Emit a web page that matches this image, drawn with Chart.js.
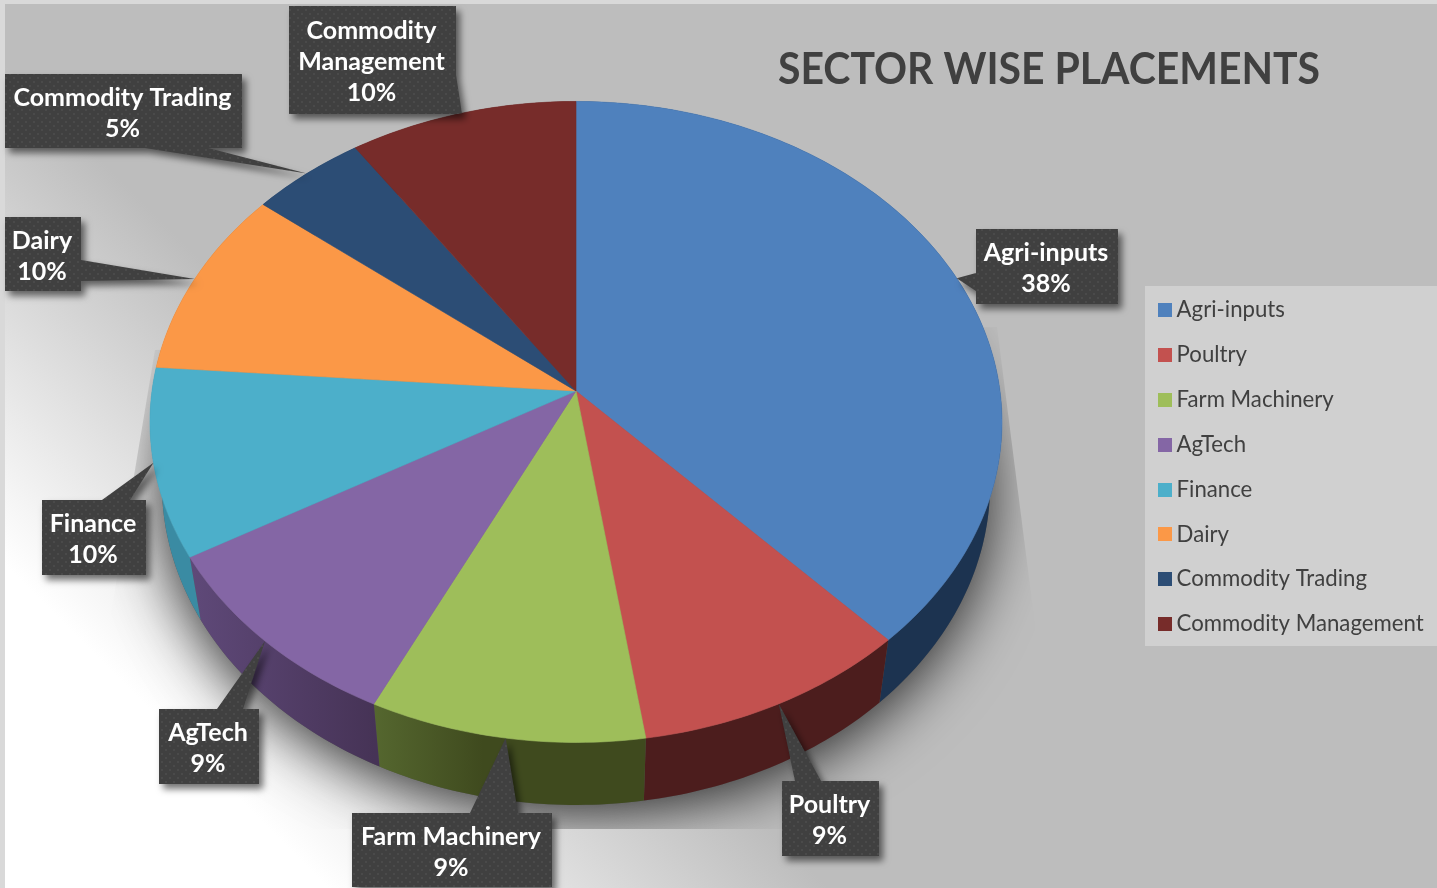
<!doctype html>
<html lang="en">
  <head>
    <meta charset="UTF-8" />
    <title>Sector Wise Placements</title>
    <script src="https://cdn.jsdelivr.net/npm/chart.js"></script>
    <style>
      body {
        margin: 0;
        background: #d9d9d9;
      }
      canvas {
        display: block;
      }
    </style>
  </head>
  <body>
    <canvas id="chart" width="1437" height="888"></canvas>

    <script>
      const sectors = ['Agri-inputs', 'Poultry', 'Farm Machinery', 'AgTech', 'Finance', 'Dairy', 'Commodity Trading', 'Commodity Management'];
      const shares = [38.0, 9.62, 9.55, 9.53, 9.5, 9.5, 4.8, 9.5];
      const shareLabels = ['38%', '9%', '9%', '9%', '10%', '10%', '5%', '10%'];
      const topColors = ['#4f81bd', '#c3514f', '#9ebe5a', '#8466a5', '#4cafca', '#fb9847', '#2c4d75', '#772c2a'];
      const sideColors = ['#1c3350', '#4c1d1d', '#3f4a1e', '#4e3a60', '#3a8ba3', '#a0622c', '#1c3350', '#4c1d1d'];

      // callout layout: box x1,y1,x2,y2 then pointer base x1,y1,x2,y2
      const calloutBoxes = [
        [976, 229, 1118, 304, 976, 273, 976, 291],
        [782, 781, 879, 856, 795, 781, 821, 781],
        [352, 813, 552, 887, 470, 813, 518, 813],
        [159, 709, 259, 784, 217, 709, 243, 709],
        [42, 500, 146, 575, 102, 500, 130, 500],
        [5, 217, 81, 291, 81, 260, 81, 281],
        [5, 74, 242, 148, 145, 148, 208, 148],
        [289, 6, 456, 114, 456, 75, 456, 114],
      ];

      // perspective of the tilted disc
      const cx = 576;
      const cy = 391;
      const rx = 424;
      const ry = 317.5;
      const tilt = 0.0966;
      const depth = 62.5;
      const bottomScale = 0.972;

      function rim(angle) {
        const d = 1 - tilt * Math.sin(angle);
        return [cx + (rx * Math.cos(angle)) / d, cy + (ry * Math.sin(angle)) / d];
      }
      function lowerRim(angle) {
        const [x, y] = rim(angle);
        return [cx + (x - cx) * bottomScale, y + depth];
      }
      function arcPoints(fn, from, to) {
        const steps = Math.max(2, Math.ceil((to - from) * 60));
        const pts = [];
        for (let i = 0; i <= steps; i++) {
          pts.push(fn(from + ((to - from) * i) / steps));
        }
        return pts;
      }
      function poly(ctx, pts) {
        pts.forEach(([x, y], i) => (i ? ctx.lineTo(x, y) : ctx.moveTo(x, y)));
        ctx.closePath();
      }

      function squareIcon(color) {
        const c = document.createElement('canvas');
        c.width = 14;
        c.height = 14;
        const g = c.getContext('2d');
        g.fillStyle = color;
        g.fillRect(0, 0, 14, 14);
        return c;
      }

      function dotPattern(ctx) {
        const c = document.createElement('canvas');
        c.width = 8;
        c.height = 8;
        const g = c.getContext('2d');
        g.fillStyle = '#404040';
        g.fillRect(0, 0, 8, 8);
        g.fillStyle = '#4a4a4a';
        g.fillRect(1, 1, 2, 2);
        g.fillRect(5, 5, 2, 2);
        return ctx.createPattern(c, 'repeat');
      }

      const backdrop = {
        id: 'backdrop',
        beforeDraw(chart) {
          const { ctx, width, height } = chart;
          ctx.save();
          ctx.fillStyle = '#d9d9d9';
          ctx.fillRect(0, 0, width, height);
          const grad = ctx.createLinearGradient(0, 560, 250, 310);
          grad.addColorStop(0, '#ffffff');
          grad.addColorStop(1, '#bdbdbd');
          ctx.fillStyle = grad;
          ctx.fillRect(5, 4, width - 5, height - 4);

          // soft shadow under the disc, cut off by the floor shape
          ctx.save();
          ctx.beginPath();
          poly(ctx, [[155, 350], [997, 327], [1061, 829], [75, 829]]);
          ctx.clip();
          ctx.shadowColor = 'rgba(0,0,0,0.8)';
          ctx.shadowBlur = 60;
          ctx.shadowOffsetY = 10;
          ctx.fillStyle = '#555';
          ctx.beginPath();
          poly(ctx, arcPoints(lowerRim, 0, Math.PI * 2));
          ctx.fill();
          ctx.restore();

          // legend panel
          ctx.fillStyle = '#d0d0d0';
          ctx.fillRect(1145, 286, width - 1145, 360);
          ctx.restore();
        },
        afterLayout(chart) {
          const legend = chart.legend;
          legend.left = 1164.5 - legend.options.labels.padding;
          legend.top = 299 - legend.options.labels.padding;
          legend.bottom = 900;
          const title = chart.titleBlock;
          title.left = 778;
          title.right = 1320;
          title.top = 43;
        },
      };

      const disc = {
        id: 'disc',
        beforeDatasetDraw(chart) {
          const { ctx } = chart;
          const arcs = chart.getDatasetMeta(0).data;
          ctx.save();
          arcs.forEach((arc, i) => {
            const upper = arcPoints(rim, arc.startAngle, arc.endAngle);
            const lower = arcPoints(lowerRim, arc.startAngle, arc.endAngle).reverse();
            const a = upper[0];
            const b = upper[upper.length - 1];
            const shade = ctx.createLinearGradient(Math.min(a[0], b[0]), 0, Math.max(a[0], b[0]) + 1, 0);
            shade.addColorStop(0, i === 2 ? '#55672f' : i === 3 ? '#5f4979' : sideColors[i]);
            if (i === 2) shade.addColorStop(0.4, sideColors[i]);
            shade.addColorStop(1, i === 3 ? '#463356' : sideColors[i]);
            ctx.fillStyle = shade;
            ctx.beginPath();
            poly(ctx, upper.concat(lower));
            ctx.fill();
          });
          arcs.forEach((arc, i) => {
            ctx.fillStyle = topColors[i];
            ctx.strokeStyle = topColors[i];
            ctx.lineWidth = 0.6;
            ctx.beginPath();
            poly(ctx, [[cx, cy]].concat(arcPoints(rim, arc.startAngle, arc.endAngle)));
            ctx.fill();
            ctx.stroke();
          });
          ctx.restore();
          return false;
        },
        afterDatasetsDraw(chart) {
          const { ctx } = chart;
          const arcs = chart.getDatasetMeta(0).data;
          const pattern = dotPattern(ctx);
          ctx.save();
          ctx.font = 'bold 25px Lato';
          ctx.textAlign = 'center';
          ctx.textBaseline = 'middle';
          arcs.forEach((arc, i) => {
            const [x1, y1, x2, y2, bx1, by1, bx2, by2] = calloutBoxes[i];
            const tip = rim((arc.startAngle + arc.endAngle) / 2);
            ctx.save();
            ctx.shadowColor = 'rgba(0,0,0,0.55)';
            ctx.shadowBlur = 7;
            ctx.shadowOffsetX = 4;
            ctx.shadowOffsetY = 5;
            ctx.fillStyle = pattern;
            ctx.beginPath();
            ctx.rect(x1, y1, x2 - x1, y2 - y1);
            poly(ctx, [[bx1, by1], tip, [bx2, by2]]);
            ctx.fill();
            ctx.restore();

            // wrap the sector name to the box
            const lines = [];
            sectors[i].split(' ').forEach((word) => {
              const last = lines[lines.length - 1];
              if (last && ctx.measureText(last + ' ' + word).width < x2 - x1 - 16) {
                lines[lines.length - 1] = last + ' ' + word;
              } else {
                lines.push(word);
              }
            });
            lines.push(shareLabels[i]);
            const mid = (y1 + y2) / 2 + 2;
            ctx.fillStyle = '#ffffff';
            lines.forEach((line, n) => {
              ctx.fillText(line, (x1 + x2) / 2 - 1, mid + (n - (lines.length - 1) / 2) * 31);
            });
          });
          ctx.restore();
        },
      };

      new Chart(document.getElementById('chart'), {
        type: 'pie',
        data: {
          labels: sectors,
          datasets: [{ data: shares, backgroundColor: topColors, borderWidth: 0 }],
        },
        options: {
          responsive: false,
          animation: false,
          plugins: {
            tooltip: { enabled: false },
            title: {
              display: true,
              text: 'SECTOR WISE PLACEMENTS',
              align: 'center',
              color: '#404040',
              padding: 0,
              font: { family: 'Lato', size: 44, weight: 'bold', lineHeight: 1.2 },
            },
            legend: {
              display: true,
              position: 'right',
              align: 'start',
              labels: {
                usePointStyle: true,
                pointStyleWidth: 1,
                color: '#404040',
                padding: 22.65,
                font: { family: 'Lato', size: 22.2 },
                generateLabels: () =>
                  sectors.map((name, i) => ({
                    text: name,
                    fontColor: '#404040',
                    pointStyle: squareIcon(topColors[i]),
                    index: i,
                  })),
              },
            },
          },
        },
        plugins: [backdrop, disc],
      });
    </script>
  </body>
</html>
